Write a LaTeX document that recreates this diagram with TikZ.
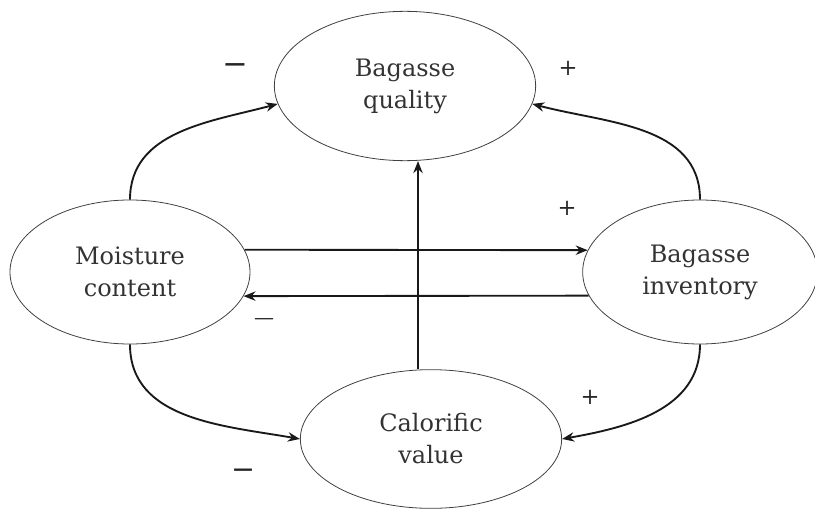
\documentclass[tikz,border=0pt]{standalone}
\usepackage{fontspec}
\setmainfont{DejaVu Serif}
\usepackage{tikz}
\usetikzlibrary{shapes.geometric,arrows.meta}

\tikzset{
	factor/.style={ellipse, draw=black!75, line width=0.6pt, align=center, inner sep=0pt,
		text=black!80, font=\fontsize{18}{24}\selectfont},
	link/.style={-{Stealth[length=9pt,width=7pt]}, line width=1.4pt, black!90},
	sign/.style={font=\fontsize{17}{24}\selectfont, text=black!85, inner sep=0pt}
}

\begin{document}
\begin{tikzpicture}[x=0.75pt,y=-0.75pt]
		\useasboundingbox (0,0) rectangle (815,510);
		% the four factors
		\node[factor, minimum width=196pt, minimum height=112pt] (bq) at (405,86) {Bagasse\\quality};
		\node[factor, minimum width=180pt, minimum height=108pt] (mc) at (130,272) {Moisture\\content};
		\node[factor, minimum width=176pt, minimum height=108pt] (bi) at (700,272) {Bagasse\\inventory};
		\node[factor, minimum width=196pt, minimum height=104pt] (cv) at (431,439) {Calorific\\value};
		
		\path[link]
		(mc.north) edge [out=90, in=195] (bq.188)
		(bi.north) edge [out=90, in=-15] (bq.-8)
		(mc.south) edge [out=-90, in=170] (cv.west)
		(bi.south) edge [out=-90, in=10] (cv.east)
		(mc.11) edge (bi.169)
		(bi.192) edge (mc.-12)
		;
		\draw[link, line width=2pt] ([xshift=-9.75pt]cv.north) -- ([xshift=9.75pt]bq.south);
		
		% signs
		\node[sign, font=\fontsize{16}{20}\selectfont\bfseries] (s1) at (235,67) {\textemdash};
		\node[sign] (s2) at (568,68) {+};
		\node[sign] (s3) at (567,208) {+};
		\node[sign, font=\fontsize{15}{20}\selectfont] (s4) at (264,322) {\textemdash};
		\node[sign] (s5) at (590,397) {+};
		\node[sign, font=\fontsize{15}{20}\selectfont\bfseries] (s6) at (243,472) {\textemdash};
	\end{tikzpicture}
\end{document}
